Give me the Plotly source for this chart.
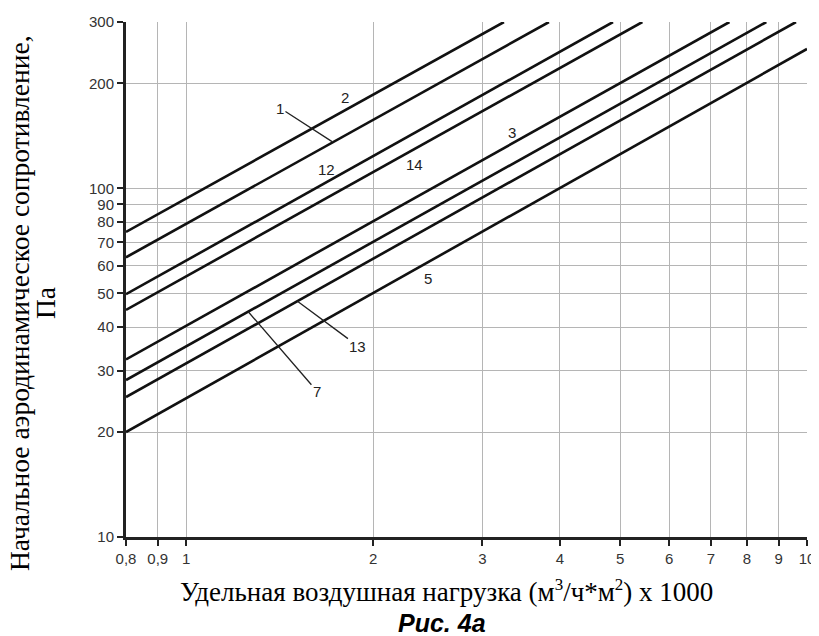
import numpy as np
import plotly.graph_objects as go

# ---- data ----
curve_labels = ["2", "1", "12", "14", "3", "7", "13", "5"]
x_start = [0.8, 0.8, 0.8, 0.8, 0.8, 0.8, 0.8, 0.8]
y_start = [75, 63.4, 49.7, 44.8, 32.3, 28.2, 25.2, 20]
x_end = [3.25, 3.84, 4.87, 5.43, 7.5, 8.6, 9.6, 10]
y_end = [300, 300, 300, 300, 300, 300, 300, 251]

x_tick_vals = [0.8, 0.9, 1, 2, 3, 4, 5, 6, 7, 8, 9, 10]
x_tick_text = ["0,8", "0,9", "1", "2", "3", "4", "5", "6", "7", "8", "9", "10"]
y_tick_vals = [10, 20, 30, 40, 50, 60, 70, 80, 90, 100, 200, 300]
y_tick_text = ["10", "20", "30", "40", "50", "60", "70", "80", "90", "100", "200", "300"]
x_grid_vals = [0.9, 1, 2, 3, 4, 5, 6, 7, 8, 9]
y_grid_vals = [20, 30, 40, 50, 60, 70, 80, 90, 100, 200]

# plain labels (label, x, y)
plain_labels = [("2", 1.80, 182), ("12", 1.68, 113.6), ("14", 2.336, 117.4),
                ("3", 3.35, 145), ("5", 2.453, 55.3)]
# leader labels (label, text x, text y, x on curve)
leader_labels = [("1", 1.416, 170, 1.718), ("13", 1.891, 35.3, 1.509),
                 ("7", 1.624, 26.2, 1.258)]

# plot area in page pixels (page has an 8px body margin)
PL, PR, PT, PB = 126, 807, 22, 537
OFF = 8
W, H = 819, 636


def px_x(p):
    return (p - PL) / (PR - PL)


def px_y(p):
    return (PB - p) / (PB - PT)


fig = go.Figure()
for lab, x0, y0, x1, y1 in zip(curve_labels, x_start, y_start, x_end, y_end):
    fig.add_trace(go.Scatter(x=[x0, x1], y=[y0, y1], mode="lines",
                             line=dict(color="#111111", width=2.6),
                             name=lab, showlegend=False, hoverinfo="skip"))

lbl_font = dict(family="Liberation Sans, Arial", size=15, color="#222222")
for lab, x, y in plain_labels:
    fig.add_annotation(x=np.log10(x), y=np.log10(y), text=lab, showarrow=False,
                       font=lbl_font, xref="x", yref="y",
                       xanchor="center", yanchor="middle")

for lab, tx, ty, cx in leader_labels:
    idx = curve_labels.index(lab)
    k = y_start[idx] / x_start[idx]
    cy = k * cx
    fig.add_annotation(x=np.log10(cx), y=np.log10(cy), ax=np.log10(tx), ay=np.log10(ty),
                       axref="x", ayref="y", xref="x", yref="y", text=lab,
                       showarrow=True, arrowhead=0, arrowwidth=1.3, arrowcolor="#222222",
                       font=lbl_font, standoff=0, startstandoff=0)

serif = "Liberation Serif, Times New Roman"
sup = "<sup><span style='font-size:17px'>{}</span></sup>"
xtitle = ("Удельная воздушная нагрузка (м" + sup.format("3") + "/ч*м" + sup.format("2")
          + ") x 1000")
# axis titles & caption
fig.add_annotation(xref="paper", yref="paper", x=px_x(446), y=px_y(591),
                   xanchor="center", yanchor="middle",
                   text=xtitle, showarrow=False,
                   font=dict(family=serif, size=27, color="black"))
fig.add_annotation(xref="paper", yref="paper", x=px_x(442), y=px_y(623),
                   xanchor="center", yanchor="middle",
                   text="<b><i>Рис. 4а</i></b>",
                   showarrow=False, font=dict(family="Liberation Sans, Arial", size=25, color="black"))
fig.add_annotation(xref="paper", yref="paper", x=px_x(19), y=px_y(303),
                   xanchor="center", yanchor="middle",
                   text="Начальное аэродинамическое сопротивление,", textangle=-90,
                   showarrow=False, font=dict(family=serif, size=27.5, color="black"))
fig.add_annotation(xref="paper", yref="paper", x=px_x(45), y=px_y(303),
                   xanchor="center", yanchor="middle",
                   text="Па", textangle=-90,
                   showarrow=False, font=dict(family=serif, size=27.5, color="black"))

tick_font = dict(family="Liberation Sans, Arial", size=15, color="#333333")
fig.update_xaxes(type="log", range=[np.log10(0.8), np.log10(10)],
                 tickmode="array", tickvals=x_tick_vals, ticktext=x_tick_text,
                 tickfont=tick_font, ticks="outside", ticklen=6, tickwidth=2, tickcolor="#222",
                 showline=True, linecolor="#222", linewidth=2.5,
                 showgrid=False, zeroline=False, automargin=False,
                 minor=dict(tickmode="array", tickvals=x_grid_vals, showgrid=True,
                            gridcolor="#b5b5b5", gridwidth=1.2, ticks=""))
fig.update_yaxes(type="log", range=[np.log10(10), np.log10(300)],
                 tickmode="array", tickvals=y_tick_vals, ticktext=y_tick_text,
                 tickfont=tick_font, ticks="outside", ticklen=6, tickwidth=2, tickcolor="#222",
                 showline=True, linecolor="#222", linewidth=3,
                 showgrid=False, zeroline=False, automargin=False,
                 minor=dict(tickmode="array", tickvals=y_grid_vals, showgrid=True,
                            gridcolor="#b5b5b5", gridwidth=1.2, ticks=""))

fig.update_layout(width=W, height=H, autosize=False,
                  margin=dict(l=PL - OFF, r=W - (PR - OFF), t=PT - OFF, b=H - (PB - OFF)),
                  plot_bgcolor="white", paper_bgcolor="white")

fig.write_html("out.html")
